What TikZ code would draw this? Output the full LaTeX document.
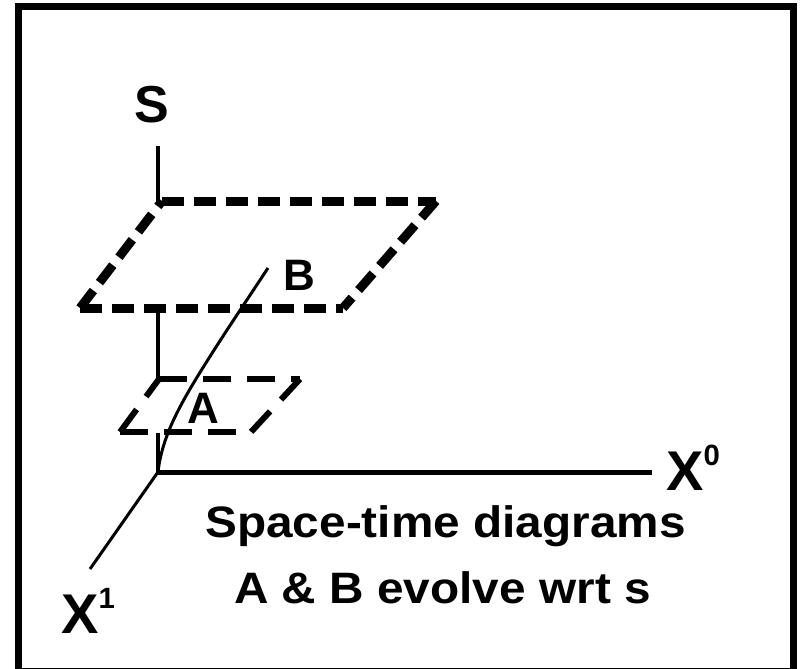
\documentclass[tikz,border=0pt]{standalone}
\usepackage{graphicx}
\usepackage{fontspec}
\setmainfont{Liberation Sans}
\begin{document}
\begin{tikzpicture}[x=0.75pt,y=-0.75pt,
  frame/.style={line width=5.25pt},
  axisline/.style={line width=3pt},
  xaxisline/.style={line width=3.75pt},
  thinline/.style={line width=2.25pt},
  bigplane/.style={line width=6.75pt, dash pattern=on 16.5pt off 7.5pt},
  smallplane/.style={line width=4.5pt, dash pattern=on 21pt off 12pt},
  biglbl/.style={inner sep=0pt, font=\bfseries\fontsize{42}{46}\selectfont},
  slbl/.style={inner sep=0pt, font=\bfseries\fontsize{39}{42}\selectfont},
  ablbl/.style={inner sep=0pt, font=\bfseries\fontsize{33}{36}\selectfont},
  captxt/.style={inner sep=0pt, font=\bfseries\fontsize{33}{38}\selectfont}]
\useasboundingbox (0,0) rectangle (800,668);
\draw[frame] (18.5,6) rectangle (793,671);

% axes
\coordinate (O) at (158,472);
\coordinate (Stop) at (158,146);
\coordinate (P1) at (158,203);
\coordinate (P1b) at (158,310);
\coordinate (P2) at (158,379);
\coordinate (P2b) at (158,433);
\coordinate (X0end) at (652,472);
\coordinate (X1end) at (90,569);
\draw[axisline] (Stop) -- (P1);
\draw[axisline] (P1b) -- (P2);
\draw[axisline] (P2b) -- (O);
\draw[xaxisline] (O) -- (X0end);
\draw[thinline] (O) -- (X1end);

% top plane
\coordinate (T1) at (162,201);
\coordinate (T2) at (436,201);
\coordinate (T3) at (343,308);
\coordinate (T4) at (80,308);
\draw[bigplane] (T1) -- (T2);
\draw[bigplane] (T2) -- (T3);
\draw[bigplane] (T4) -- (T3);
\draw[bigplane] (T4) -- (T1);

% small plane
\coordinate (Q1) at (159,379);
\coordinate (Q2) at (300,379);
\coordinate (Q3) at (251,432);
\coordinate (Q4) at (120,432);
\draw[smallplane] (Q1) -- (Q2);
\draw[smallplane] (Q2) -- (Q3);
\draw[smallplane] (Q4) -- (Q3);
\draw[smallplane] (Q4) -- (Q1);

% world line
\coordinate (Wend) at (268,268);
\coordinate (Wmid) at (227,330);
\draw[thinline] (Wend) -- (Wmid) .. controls (185,395) and (163,430) .. (O);

% labels
\node[slbl, anchor=base] (Slab) at (152,122) {S};
\node[ablbl, anchor=base] (Blab) at (299,290) {B};
\node[ablbl, anchor=base] (Alab) at (203,423) {A};
\node[biglbl, anchor=base west] (X0lab) at (666,490) {X\raisebox{18.75pt}{\fontsize{22}{24}\selectfont 0}};
\node[biglbl, anchor=base west] (X1lab) at (61,633) {X\raisebox{18.75pt}{\fontsize{22}{24}\selectfont 1}};
\node[captxt, anchor=base] (cap1) at (445.5,537) {\scalebox{1.085}[1]{Space-time diagrams}};
\node[captxt, anchor=base] (cap2) at (442.5,603) {\scalebox{1.085}[1]{A \& B evolve wrt s}};
\end{tikzpicture}
\end{document}
